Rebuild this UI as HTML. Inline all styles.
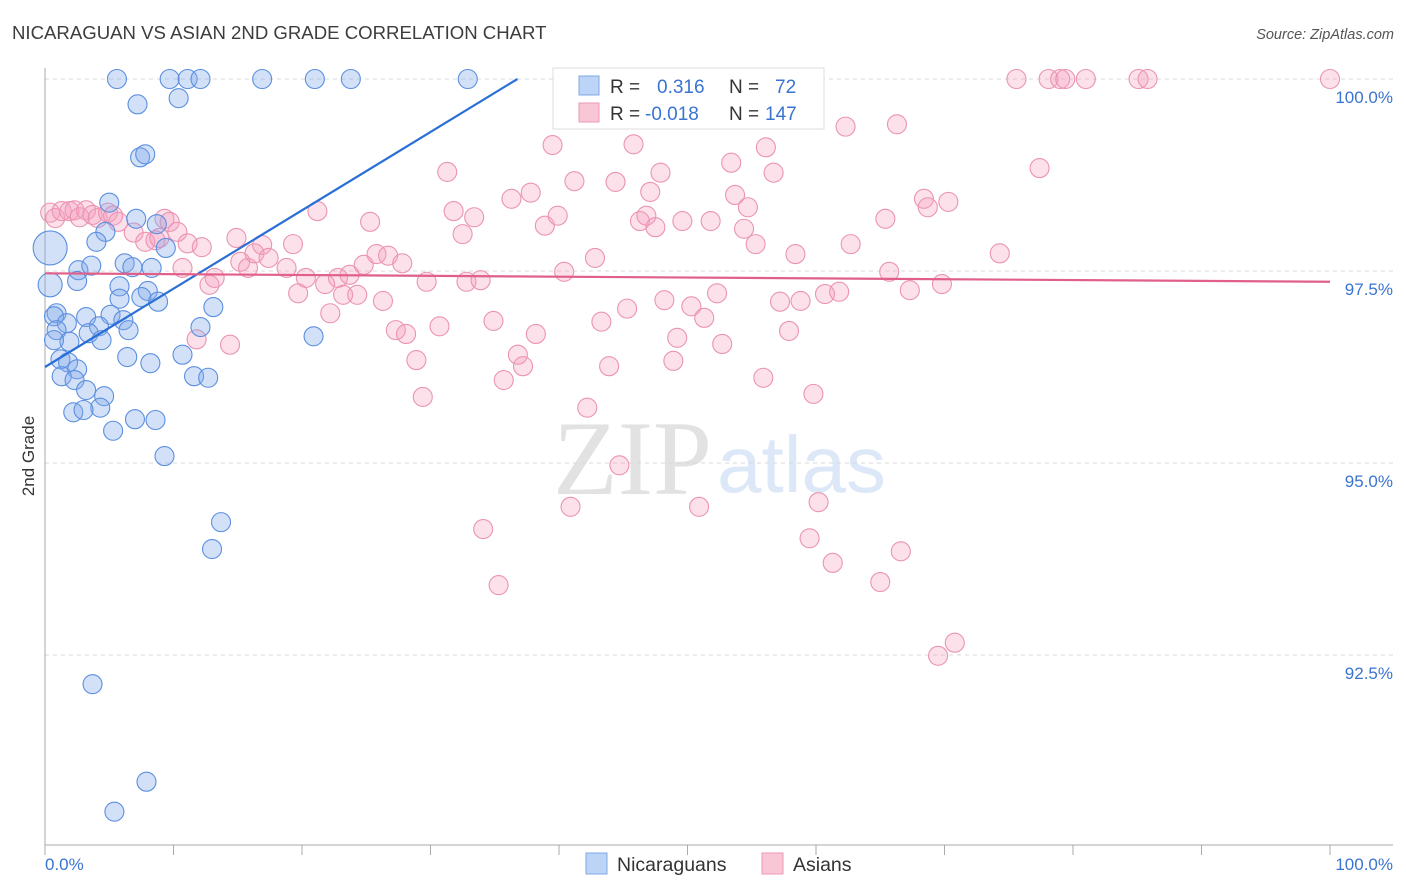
<!DOCTYPE html>
<html><head><meta charset="utf-8"><style>
body{margin:0;background:#fff;font-family:"Liberation Sans",sans-serif;}
svg{display:block}
</style></head><body>
<svg id="chart" width="1406" height="892" xmlns="http://www.w3.org/2000/svg">
<text x="12" y="39" font-size="18.6" fill="#3d3d3d" font-family="Liberation Sans, sans-serif">NICARAGUAN VS ASIAN 2ND GRADE CORRELATION CHART</text>
<text x="1394" y="39" font-size="14.5" fill="#555" font-style="italic" text-anchor="end">Source: ZipAtlas.com</text>
<g>
<text x="553" y="494" font-size="106" font-family="Liberation Serif, serif" fill="#e2e2e2">ZIP</text>
<text x="717" y="492" font-size="80" font-family="Liberation Sans, sans-serif" fill="#dce8f7">atlas</text>
</g>
<g id="grid"></g>
<g id="axes"></g>
<g id="pinkPts"></g>
<g id="bluePts"></g>
<g id="trends"></g>
<text transform="translate(34,456) rotate(-90)" font-size="17" fill="#333" text-anchor="middle">2nd Grade</text>
<g>
<rect x="553" y="68" width="271" height="61" fill="#fff" stroke="#ddd"/>
<rect x="579" y="76" width="20" height="19" fill="#bcd4f5" stroke="#7fa8e6"/>
<rect x="579" y="103" width="20" height="19" fill="#f9c6d6" stroke="#eb9ab5"/>
<text x="610" y="93" font-size="19" fill="#333">R =</text>
<text x="657" y="93" font-size="19" fill="#3a74d0">0.316</text>
<text x="729" y="93" font-size="19" fill="#333">N =</text>
<text x="775" y="93" font-size="19" fill="#3a74d0">72</text>
<text x="610" y="120" font-size="19" fill="#333">R =</text>
<text x="645" y="120" font-size="19" fill="#3a74d0">-0.018</text>
<text x="729" y="120" font-size="19" fill="#333">N =</text>
<text x="765" y="120" font-size="19" fill="#3a74d0">147</text>
</g>
<g>
<rect x="586" y="853" width="21" height="21" fill="#bcd4f5" stroke="#7fa8e6"/>
<text x="617" y="871" font-size="19.5" fill="#333">Nicaraguans</text>
<rect x="762" y="853" width="21" height="21" fill="#f9c6d6" stroke="#eb9ab5"/>
<text x="793" y="871" font-size="19.5" fill="#333">Asians</text>
</g>
</svg>
<script>
const yTicks=[100,97.5,95,92.5];
const yTickLabels=["100.0%","97.5%","95.0%","92.5%"];
const xTickLabels=["0.0%","100.0%"];
const blueX=[5.6,9.7,11.1,12.1,16.9,21.0,23.8,32.9,7.2,10.4,7.4,7.8,5.0,7.1,8.7,9.4,4.7,4.0,0.4,2.6,3.6,6.2,6.8,8.3,2.5,0.4,5.8,8.0,7.5,5.8,8.8,13.1,0.9,0.7,3.2,5.1,6.1,1.7,4.2,12.1,20.9,0.9,3.4,6.5,4.4,1.9,0.7,1.2,1.8,6.4,8.2,10.7,2.5,1.3,2.3,11.6,12.7,3.2,4.6,4.3,2.2,3.0,7.0,8.6,5.3,9.3,13.7,13.0,3.7,7.9,5.4];
const blueY=[100,100,100,100,100,100,100,100,99.67,99.75,98.98,99.02,98.39,98.18,98.11,97.80,98.01,97.88,97.80,97.51,97.57,97.60,97.55,97.54,97.37,97.32,97.30,97.24,97.16,97.14,97.10,97.03,96.95,96.91,96.90,96.93,96.86,96.82,96.78,96.77,96.65,96.73,96.69,96.73,96.60,96.58,96.60,96.35,96.31,96.38,96.30,96.41,96.22,96.13,96.08,96.13,96.11,95.95,95.87,95.72,95.66,95.69,95.57,95.56,95.42,95.09,94.23,93.88,92.12,90.85,90.46];
const blueWeight=[1,1,1,1,1,1,1,1,1,1,1,1,1,1,1,1,1,1,3.2,1,1,1,1,1,1,1.6,1,1,1,1,1,1,1,1,1,1,1,1,1,1,1,1,1,1,1,1,1,1,1,1,1,1,1,1,1,1,1,1,1,1,1,1,1,1,1,1,1,1,1,1,1];
const pinkX=[0.4,0.8,1.3,1.9,2.3,2.7,3.2,3.7,4.1,4.9,5.3,5.7,6.9,7.8,8.6,8.9,9.3,9.7,10.3,10.7,11.1,11.8,12.2,12.8,13.2,14.4,14.9,15.2,15.8,16.3,16.9,17.4,18.8,19.3,19.7,20.3,21.2,21.8,22.2,22.8,23.2,23.7,24.3,24.8,25.3,25.8,26.3,26.7,27.3,27.8,28.1,28.9,29.4,29.7,30.7,31.3,31.8,32.5,32.8,33.4,33.9,34.1,34.9,35.3,35.7,36.3,36.8,37.2,37.8,38.2,38.9,39.5,39.9,40.4,40.9,41.2,42.2,42.8,43.3,43.9,44.4,44.7,45.3,45.8,46.3,46.8,47.1,47.5,47.9,48.2,48.9,49.2,49.6,50.3,50.9,51.3,51.8,52.3,52.7,53.4,53.7,54.4,54.7,55.3,55.9,56.1,56.7,57.2,57.9,58.4,58.8,59.5,59.8,60.2,60.7,61.3,61.8,62.3,62.7,65.0,65.4,65.7,66.3,66.6,67.3,68.4,68.7,69.5,69.8,70.3,70.8,74.3,75.6,77.4,78.1,79.0,79.4,81.0,85.1,85.8,100];
const pinkY=[98.26,98.19,98.28,98.28,98.29,98.20,98.29,98.23,98.19,98.26,98.22,98.14,98.00,97.88,97.90,97.93,98.18,98.14,98.01,97.54,97.86,96.61,97.81,97.32,97.41,96.54,97.93,97.62,97.54,97.73,97.84,97.67,97.54,97.85,97.21,97.41,98.28,97.33,96.95,97.41,97.19,97.45,97.19,97.58,98.14,97.72,97.11,97.70,96.73,97.60,96.68,96.34,95.86,97.36,96.78,98.79,98.28,97.98,97.36,98.20,97.38,94.14,96.85,93.41,96.08,98.44,96.41,96.26,98.52,96.68,98.09,99.14,98.22,97.49,94.43,98.67,95.72,97.67,96.84,96.26,98.66,94.97,97.01,99.15,98.15,98.22,98.53,98.07,98.78,97.12,96.33,96.63,98.15,97.04,94.43,96.89,98.15,97.21,96.55,98.91,98.49,98.05,98.33,97.85,96.11,99.11,98.78,97.10,96.72,97.72,97.11,94.02,95.90,94.49,97.20,93.70,97.23,99.38,97.85,93.45,98.18,97.49,99.41,93.85,97.25,98.44,98.33,92.49,97.33,98.40,92.66,97.73,100,98.84,100,100,100,100,100,100,100];
const blueTrend=[96.25,0.102];
const pinkTrend=[97.47,-0.0011];

const NS="http://www.w3.org/2000/svg";
const X0=45,X1=1330,Y100=79,PXPER=76.8,PLOTTOP=68,PLOTBOT=845,PLOTRIGHT=1393;
function sx(v){return X0+(X1-X0)*v/100;}
function sy(v){return Y100+(100-v)*PXPER;}
function mk(tag,attrs,parent){const e=document.createElementNS(NS,tag);for(const k in attrs)e.setAttribute(k,attrs[k]);parent.appendChild(e);return e;}
const grid=document.getElementById('grid'),axes=document.getElementById('axes');
yTicks.forEach((t,i)=>{
  const l=mk('line',{x1:X0,x2:PLOTRIGHT,y1:sy(t),y2:sy(t),stroke:'#d8d8d8','stroke-dasharray':'4,4'},grid);
  
  
  const tx=mk('text',{x:1393,y:sy(t)+24,'font-size':17,fill:'#3a74d0','text-anchor':'end'},axes);
  tx.textContent=yTickLabels[i];
  
  
});
const yl=mk('line',{x1:X0,x2:X0,y1:PLOTTOP,y2:PLOTBOT,stroke:'#aaa'},axes);


const xl=mk('line',{x1:X0,x2:PLOTRIGHT,y1:PLOTBOT,y2:PLOTBOT,stroke:'#aaa'},axes);


for(let i=0;i<=10;i++){
  const tk=mk('line',{x1:sx(i*10),x2:sx(i*10),y1:PLOTBOT,y2:PLOTBOT+10,stroke:'#aaa'},axes);
  
  
}
const xa=mk('text',{x:45,y:870,'font-size':17,fill:'#3a74d0'},axes);xa.textContent=xTickLabels[0];


const xb=mk('text',{x:1393,y:870,'font-size':17,fill:'#3a74d0','text-anchor':'end'},axes);xb.textContent=xTickLabels[1];



const pg=document.getElementById('pinkPts');
pinkX.forEach((x,i)=>{
  const c=mk('circle',{cx:sx(x),cy:sy(pinkY[i]),r:9.5,fill:'rgba(245,160,190,0.32)',stroke:'#eb94b2','stroke-width':1.1},pg);
  
  
});
const bg=document.getElementById('bluePts');
blueX.forEach((x,i)=>{
  const c=mk('circle',{cx:sx(x),cy:sy(blueY[i]),r:9.5*Math.sqrt(blueWeight[i]),fill:'rgba(130,170,235,0.35)',stroke:'#5b8fe0','stroke-width':1.1},bg);
  
  
});
const tg=document.getElementById('trends');
let bx1=(100-blueTrend[0])/blueTrend[1]; if(bx1>100)bx1=100;
const bl=mk('line',{x1:sx(0),y1:sy(blueTrend[0]),x2:sx(bx1),y2:sy(blueTrend[0]+blueTrend[1]*bx1),stroke:'#2a6fd6','stroke-width':2.2},tg);


const pl=mk('line',{x1:sx(0),y1:sy(pinkTrend[0]),x2:sx(100),y2:sy(pinkTrend[0]+pinkTrend[1]*100),stroke:'#e0608a','stroke-width':2.2},tg);


</script>
</body></html>
